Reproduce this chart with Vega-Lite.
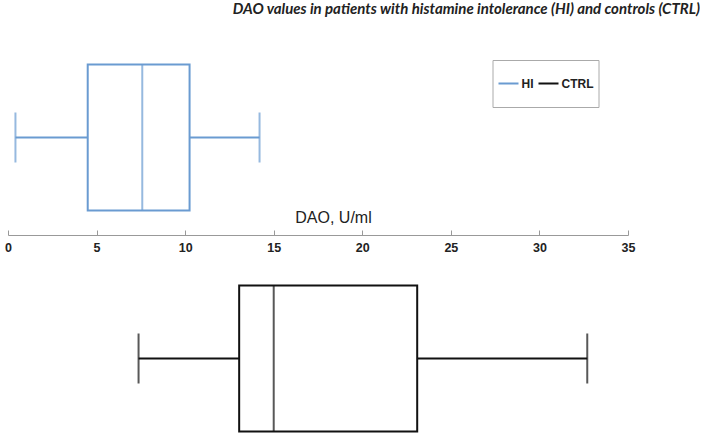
{
  "$schema": "https://vega.github.io/schema/vega-lite/v6.json",
  "padding": {"left": 4, "top": 2, "right": 0, "bottom": 0},
  "background": "white",
  "title": {
    "text": "DAO values in patients with histamine intolerance (HI) and controls (CTRL)",
    "anchor": "end",
    "frame": "group",
    "dx": 72,
    "offset": 23,
    "font": "Lato",
    "fontSize": 15,
    "fontStyle": "italic",
    "fontWeight": "bold",
    "color": "#222"
  },
  "datasets": {
    "stats": [
      {"group": "HI", "min": 0.42, "q1": 4.5, "median": 7.58, "q3": 10.25, "max": 14.2},
      {"group": "CTRL", "min": 7.37, "q1": 13.05, "median": 15.0, "q3": 23.1, "max": 32.7}
    ]
  },
  "spacing": 26,
  "bounds": "flush",
  "config": {
    "view": {"stroke": null},
    "legend": {
      "orient": "none",
      "legendX": 484.5,
      "legendY": 20,
      "direction": "horizontal",
      "strokeColor": "#aaa",
      "padding": 5,
      "clipHeight": 37,
      "symbolType": "stroke",
      "symbolStrokeWidth": 2,
      "symbolSize": 400,
      "labelFont": "Liberation Sans",
      "labelFontSize": 12,
      "labelFontWeight": "bold",
      "labelColor": "#222",
      "labelOffset": 2,
      "columnPadding": 4,
      "title": null
    }
  },
  "vconcat": [
    {
      "width": 620,
      "height": 195,
      "data": {"name": "stats"},
      "transform": [{"filter": "datum.group === 'HI'"}],
      "encoding": {
        "y": {"field": "group", "type": "nominal", "axis": null},
        "color": {
          "field": "group",
          "type": "nominal",
          "scale": {"domain": ["HI", "CTRL"], "range": ["#6a9bd1", "#111111"]},
          "legend": {"title": null}
        }
      },
      "layer": [
        {
          "mark": {"type": "rule", "strokeWidth": 2},
          "encoding": {
            "x": {
              "field": "min",
              "type": "quantitative",
              "scale": {"domain": [0, 35], "nice": false},
              "axis": {
                "values": [0, 5, 10, 15, 20, 25, 30, 35],
                "title": "DAO, U/ml",
                "titleFont": "Liberation Sans",
                "titleFontSize": 16,
                "titleFontWeight": "normal",
                "titleColor": "#222",
                "titleX": 325,
                "titleY": -13,
                "titleBaseline": "alphabetic",
                "titleAnchor": "middle",
                "titleAlign": "center",
                "domainColor": "#999",
                "tickColor": "#999",
                "tickSize": -5,
                "grid": false,
                "labelFont": "Liberation Sans",
                "labelFontSize": 12.5,
                "labelFontWeight": "bold",
                "labelColor": "#222",
                "labelPadding": 11,
                "labelFlush": false
              }
            },
            "x2": {"field": "q1"}
          }
        },
        {
          "mark": {"type": "rule", "strokeWidth": 2},
          "encoding": {
            "x": {"field": "q3", "type": "quantitative"},
            "x2": {"field": "max"}
          }
        },
        {
          "mark": {"type": "bar", "filled": false, "strokeWidth": 2, "size": 146},
          "encoding": {
            "x": {"field": "q1", "type": "quantitative"},
            "x2": {"field": "q3"}
          }
        },
        {
          "mark": {"type": "tick", "thickness": 2, "size": 146, "orient": "vertical"},
          "encoding": {"x": {"field": "median", "type": "quantitative"}}
        },
        {
          "mark": {"type": "tick", "thickness": 2, "size": 50, "orient": "vertical"},
          "encoding": {"x": {"field": "min", "type": "quantitative"}}
        },
        {
          "mark": {"type": "tick", "thickness": 2, "size": 50, "orient": "vertical"},
          "encoding": {"x": {"field": "max", "type": "quantitative"}}
        }
      ]
    },
    {
      "width": 620,
      "height": 195,
      "data": {"name": "stats"},
      "transform": [{"filter": "datum.group === 'CTRL'"}],
      "encoding": {
        "y": {"field": "group", "type": "nominal", "axis": null},
        "color": {"field": "group", "type": "nominal"}
      },
      "layer": [
        {
          "mark": {"type": "rule", "strokeWidth": 2},
          "encoding": {
            "x": {"field": "min", "type": "quantitative", "scale": {"domain": [0, 35], "nice": false}, "axis": null},
            "x2": {"field": "q1"}
          }
        },
        {
          "mark": {"type": "rule", "strokeWidth": 2},
          "encoding": {
            "x": {"field": "q3", "type": "quantitative"},
            "x2": {"field": "max"}
          }
        },
        {
          "mark": {"type": "bar", "filled": false, "strokeWidth": 2, "size": 146},
          "encoding": {
            "x": {"field": "q1", "type": "quantitative"},
            "x2": {"field": "q3"}
          }
        },
        {
          "mark": {"type": "tick", "thickness": 2, "size": 146, "orient": "vertical"},
          "encoding": {"x": {"field": "median", "type": "quantitative"}}
        },
        {
          "mark": {"type": "tick", "thickness": 2, "size": 50, "orient": "vertical"},
          "encoding": {"x": {"field": "min", "type": "quantitative"}}
        },
        {
          "mark": {"type": "tick", "thickness": 2, "size": 50, "orient": "vertical"},
          "encoding": {"x": {"field": "max", "type": "quantitative"}}
        }
      ]
    }
  ]
}
